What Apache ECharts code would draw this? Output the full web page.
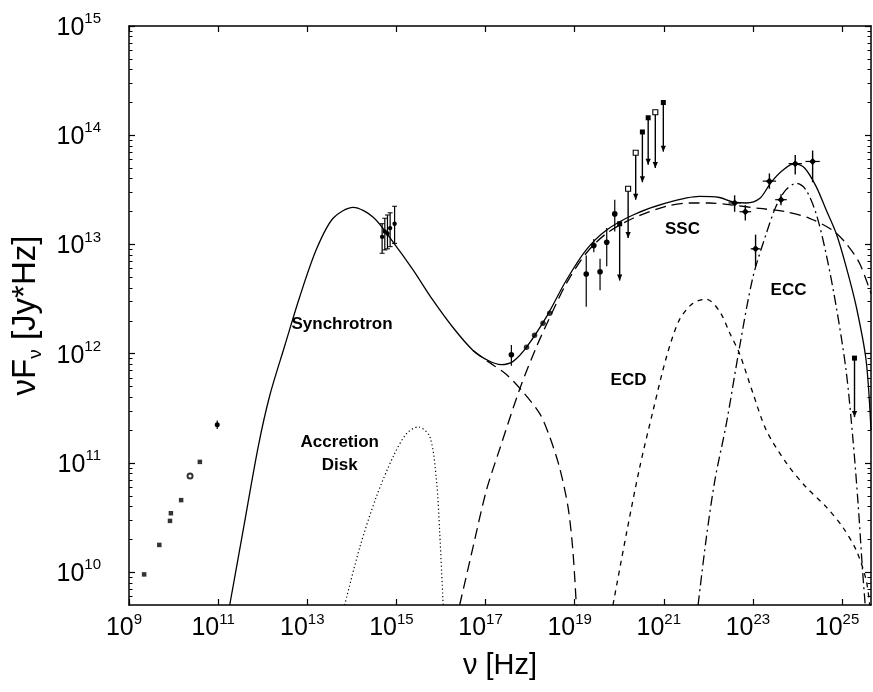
<!DOCTYPE html>
<html>
<head>
<meta charset="utf-8">
<script src="https://cdn.jsdelivr.net/npm/echarts@6/dist/echarts.min.js"></script>
<style>
  html, body { margin: 0; padding: 0; background: #fff; }
  #chart { width: 873px; height: 692px; }
</style>
</head>
<body>
<div id="chart"></div>
<script>
// All values are log10 exponents: [log10(nu/Hz), log10(nuFnu / Jy*Hz)]
const xTickExps = [9, 11, 13, 15, 17, 19, 21, 23, 25];
const yTickExps = [10, 11, 12, 13, 14, 15];

const totalCurve = [[11.26,9.70],[11.56,10.38],[11.90,11.15],[12.16,11.62],[12.50,12.08],[12.83,12.52],[13.21,12.96],[13.58,13.24],[14.03,13.34],[14.48,13.25],[14.93,13.02],[15.37,12.77],[15.82,12.49],[16.27,12.24],[16.72,12.03],[17.05,11.94],[17.35,11.90],[17.62,11.93],[17.92,12.06],[18.37,12.34],[18.81,12.67],[19.26,12.95],[19.71,13.13],[20.31,13.27],[21.06,13.38],[21.80,13.44],[22.25,13.43],[22.55,13.39],[22.85,13.38],[23.15,13.42],[23.41,13.57],[23.67,13.68],[23.93,13.74],[24.16,13.70],[24.42,13.53],[24.64,13.32],[24.87,13.10],[25.09,12.80],[25.32,12.43],[25.54,11.94],[25.65,11.30]];
const syncTail = [[16.72,12.03],[17.05,11.93],[17.47,11.81],[17.84,11.65],[18.22,11.45],[18.44,11.24],[18.66,10.96],[18.85,10.60],[18.96,10.20],[19.04,9.68]];
const sscCurve = [[16.42,9.70],[16.72,10.23],[17.02,10.75],[17.32,11.13],[17.77,11.68],[18.14,12.06],[18.44,12.33],[18.81,12.64],[19.26,12.92],[19.71,13.10],[20.31,13.24],[21.06,13.35],[21.60,13.38],[22.03,13.38],[22.55,13.36],[23.15,13.33],[23.74,13.30],[24.27,13.24],[24.79,13.13],[25.09,13.01],[25.39,12.83],[25.65,12.55]];
const ecdCurve = [[19.86,9.70],[20.16,10.35],[20.46,10.96],[20.76,11.48],[21.06,11.97],[21.35,12.31],[21.65,12.46],[21.95,12.50],[22.25,12.39],[22.48,12.19],[22.70,12.00],[23.00,11.64],[23.30,11.30],[23.75,11.00],[24.19,10.78],[24.64,10.60],[25.02,10.41],[25.32,10.20],[25.54,9.93],[25.62,9.70]];
const eccCurve = [[21.77,9.70],[21.95,10.30],[22.15,10.85],[22.40,11.35],[22.70,12.06],[23.00,12.70],[23.30,13.10],[23.52,13.35],[23.74,13.50],[23.97,13.56],[24.19,13.50],[24.42,13.28],[24.64,12.92],[24.87,12.43],[25.09,11.85],[25.24,11.24],[25.36,10.63],[25.46,10.02],[25.52,9.70]];
const diskCurve = [[13.84,9.70],[14.18,10.23],[14.55,10.69],[14.93,11.06],[15.23,11.27],[15.49,11.33],[15.75,11.24],[15.90,10.84],[15.97,10.38],[16.05,9.70]];

// observed points
const radioPts = [[9.34,9.98],[9.68,10.25],[9.92,10.47],[9.94,10.54],[10.17,10.66],[10.59,11.01]];
const radioOpen = [[10.37,10.88]];
const radioErr = [[10.98,11.35,11.31,11.39]];            // [x, y, low, high]
const opticalPts = [[14.68,13.07,12.92,13.19],[14.74,13.12,12.95,13.24],[14.80,13.10,12.96,13.27],[14.86,13.15,12.98,13.29],[14.96,13.19,13.01,13.35]];
const xrayErr = [[17.58,11.99,11.89,12.08]];
const xrayPts = [[17.92,12.06],[18.10,12.17],[18.29,12.28],[18.44,12.37]];
const gammaDet = [[19.26,12.73,12.43,12.90],[19.43,12.99,12.93,13.05],[19.57,12.75,12.58,12.87],[19.72,13.02,12.80,13.15],[19.90,13.28,13.12,13.41]];
const upperFilled = [[20.01,13.19,12.67],[20.52,14.03,13.57],[20.65,14.16,13.73],[20.99,14.30,13.85],[25.28,11.96,11.42]]; // [x, y, arrow end]
const upperOpen = [[20.20,13.51,13.06],[20.37,13.84,13.41],[20.81,14.21,13.70]];
const egretPts = [[22.59,13.38,13.30,13.45,22.45,22.73],[22.83,13.30,13.22,13.36,22.70,22.96],[23.06,12.96,12.80,13.09,22.95,23.17],[23.37,13.58,13.51,13.65,23.22,23.52],[23.63,13.41,13.36,13.46,23.50,23.76],[23.95,13.74,13.64,13.82,23.80,24.10],[24.34,13.76,13.57,13.86,24.18,24.50]];

const annotationText = ['Synchrotron', 'Accretion\nDisk', 'SSC', 'ECD', 'ECC'];
const annotationPos = [[13.78, 12.27], [13.73, 11.08], [21.42, 13.14], [20.21, 11.76], [23.80, 12.58]];

const X_MIN = 9, X_MAX = 25.65, Y_MIN = 9.7, Y_MAX = 15;
const FONT = '"Liberation Sans", Arial, Helvetica, sans-serif';
const INK = '#000';

// minor log ticks (2..9 x 10^n)
const yMinor = [];
for (let n = 9; n < 15; n++) for (let k = 2; k <= 9; k++) {
  const v = n + Math.log10(k);
  if (v > Y_MIN && v < Y_MAX) yMinor.push(v);
}

const powLabel = (v) => '{b|10}{s|' + Math.round(v) + '}';
const powRich = {
  b: {fontSize: 25, fontFamily: FONT, color: INK, lineHeight: 29, verticalAlign: 'bottom'},
  s: {fontSize: 15, fontFamily: FONT, color: INK, lineHeight: 15, verticalAlign: 'top'}
};

function baseAxis(extra) {
  return Object.assign({
    type: 'value', splitLine: {show: false},
    axisLine: {show: true, onZero: false, lineStyle: {color: INK, width: 1.5}},
    axisTick: {show: true, inside: true, length: 6, lineStyle: {color: INK, width: 1.2}},
    axisLabel: {show: false}
  }, extra);
}

function curve(data, dash) {
  return {type: 'line', data: data, smooth: 0.3, symbol: 'none', silent: true, clip: true,
    lineStyle: {color: INK, width: 1.3, type: dash}, z: 3};
}

function vErr(cap, r) {
  return function (params, api) {
    const x = api.value(0);
    const p = api.coord([x, api.value(1)]);
    const lo = api.coord([x, api.value(2)]);
    const hi = api.coord([x, api.value(3)]);
    const ch = [
      {type: 'line', shape: {x1: p[0], y1: lo[1], x2: p[0], y2: hi[1]}, style: {stroke: INK, lineWidth: 1.2}},
      {type: 'circle', shape: {cx: p[0], cy: p[1], r: r}, style: {fill: INK}}
    ];
    if (cap) {
      ch.push({type: 'line', shape: {x1: p[0]-cap, y1: hi[1], x2: p[0]+cap, y2: hi[1]}, style: {stroke: INK, lineWidth: 1}});
      ch.push({type: 'line', shape: {x1: p[0]-cap, y1: lo[1], x2: p[0]+cap, y2: lo[1]}, style: {stroke: INK, lineWidth: 1}});
    }
    return {type: 'group', children: ch};
  };
}
function upperLimit(open) {
  return function (params, api) {
    const x = api.value(0);
    const p = api.coord([x, api.value(1)]);
    const e = api.coord([x, api.value(2)]);
    return {type: 'group', children: [
      {type: 'line', shape: {x1: p[0], y1: p[1], x2: e[0], y2: e[1]}, style: {stroke: INK, lineWidth: 1.4}},
      {type: 'polygon', shape: {points: [[e[0]-2.6, e[1]-6], [e[0]+2.6, e[1]-6], [e[0], e[1]]]}, style: {fill: INK}},
      {type: 'rect', shape: {x: p[0]-2.5, y: p[1]-2.5, width: 5, height: 5},
        style: open ? {fill: '#fff', stroke: INK, lineWidth: 1.1} : {fill: INK}}
    ]};
  };
}
function egretRender(params, api) {
  const x = api.value(0), y = api.value(1);
  const p = api.coord([x, y]);
  const lo = api.coord([x, api.value(2)]), hi = api.coord([x, api.value(3)]);
  const l = api.coord([api.value(4), y]), r = api.coord([api.value(5), y]);
  return {type: 'group', children: [
    {type: 'line', shape: {x1: p[0], y1: lo[1], x2: p[0], y2: hi[1]}, style: {stroke: INK, lineWidth: 1.4}},
    {type: 'line', shape: {x1: l[0], y1: p[1], x2: r[0], y2: p[1]}, style: {stroke: INK, lineWidth: 1.2}},
    {type: 'polygon', shape: {points: [[p[0], p[1]-3.5], [p[0]+3.5, p[1]], [p[0], p[1]+3.5], [p[0]-3.5, p[1]]]}, style: {fill: INK}}
  ]};
}
function textRender(params, api) {
  const p = api.coord([api.value(0), api.value(1)]);
  return {type: 'text', x: p[0], y: p[1], style: {
    text: annotationText[params.dataIndex], fill: INK, align: 'center', verticalAlign: 'middle',
    font: 'bold 17px ' + FONT, lineHeight: 23}};
}
function custom(data, render) {
  return {type: 'custom', data: data, renderItem: render, silent: true, clip: true, z: 4,
    encode: {x: 0, y: 1}};
}

const chart = echarts.init(document.getElementById('chart'), null, {renderer: 'canvas'});
chart.setOption({
  animation: false,
  backgroundColor: '#fff',
  grid: {left: 129, right: 2, top: 26, bottom: 87, containLabel: false},
  xAxis: [
    baseAxis({position: 'bottom', min: X_MIN, max: X_MAX,
      axisTick: {show: true, inside: true, length: 6, customValues: xTickExps, lineStyle: {color: INK, width: 1.2}},
      axisLabel: {show: true, customValues: xTickExps, margin: 7, formatter: (v) => powLabel(v) + '{g| }',
        rich: Object.assign({g: {width: 10, fontSize: 10}}, powRich)},
      name: 'ν [Hz]', nameLocation: 'middle', nameGap: 46,
      nameTextStyle: {fontSize: 29, fontFamily: FONT, color: INK}}),
    baseAxis({position: 'top', min: X_MIN, max: X_MAX,
      axisTick: {show: true, inside: true, length: 6, customValues: xTickExps, lineStyle: {color: INK, width: 1.2}}})
  ],
  yAxis: [
    baseAxis({position: 'left', min: Y_MIN, max: Y_MAX,
      axisTick: {show: true, inside: true, length: 6, customValues: yTickExps, lineStyle: {color: INK, width: 1.2}},
      axisLabel: {show: true, customValues: yTickExps, margin: 28, formatter: powLabel, rich: powRich},
      name: '{a|νF}{u|ν}{a| [Jy*Hz]}', nameLocation: 'middle', nameRotate: 90, nameGap: 83,
      nameTextStyle: {rich: {
        a: {fontSize: 33, fontFamily: FONT, color: INK, lineHeight: 36, verticalAlign: 'top'},
        u: {fontSize: 19, fontFamily: FONT, color: INK, lineHeight: 19, verticalAlign: 'bottom'}
      }}}),
    baseAxis({position: 'right', min: Y_MIN, max: Y_MAX,
      axisTick: {show: true, inside: true, length: 6, customValues: yTickExps, lineStyle: {color: INK, width: 1.2}}}),
    baseAxis({position: 'left', min: Y_MIN, max: Y_MAX, axisLine: {show: false},
      axisTick: {show: true, inside: true, length: 3.5, customValues: yMinor, lineStyle: {color: INK, width: 1}}}),
    baseAxis({position: 'right', min: Y_MIN, max: Y_MAX, axisLine: {show: false},
      axisTick: {show: true, inside: true, length: 3.5, customValues: yMinor, lineStyle: {color: INK, width: 1}}})
  ],
  series: [
    curve(totalCurve, 'solid'),
    curve(syncTail, [11, 6]),
    curve(sscCurve, [11, 6]),
    curve(ecdCurve, [5, 5]),
    curve(eccCurve, [10, 4, 2, 4]),
    Object.assign(curve(diskCurve, [1.2, 2.6]), {lineStyle: {color: INK, width: 1.2, type: [1.2, 2.6]}}),
    {type: 'scatter', data: radioPts, symbol: 'rect', symbolSize: 4.5, itemStyle: {color: INK}, silent: true, z: 4},
    {type: 'scatter', data: radioOpen, symbol: 'emptyCircle', symbolSize: 5,
      itemStyle: {color: INK, borderColor: INK, borderWidth: 1.2}, silent: true, z: 4},
    custom(radioErr, vErr(0, 2.5)),
    custom(opticalPts, vErr(2.5, 2.2)),
    custom(xrayErr, vErr(0, 2.8)),
    {type: 'scatter', data: xrayPts, symbol: 'circle', symbolSize: 5.5, itemStyle: {color: INK}, silent: true, z: 4},
    custom(gammaDet, vErr(0, 2.8)),
    custom(upperFilled, upperLimit(false)),
    custom(upperOpen, upperLimit(true)),
    custom(egretPts, egretRender),
    Object.assign(custom(annotationPos, textRender), {z: 5, clip: false})
  ]
});
</script>
</body>
</html>
